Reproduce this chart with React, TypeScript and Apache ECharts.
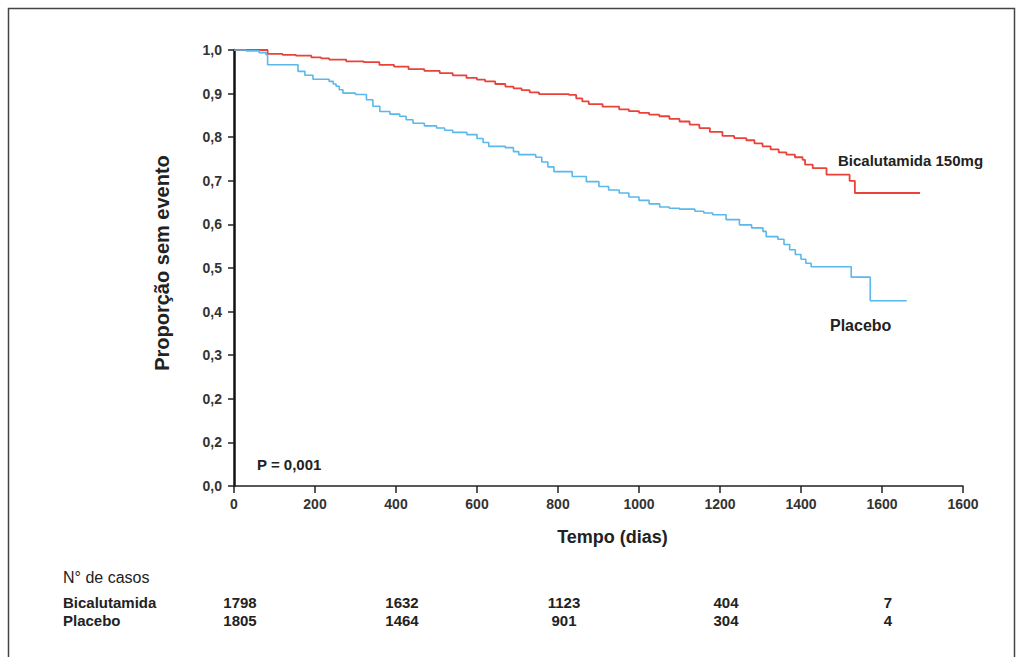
import React, { useEffect, useRef } from "react";
import * as echarts from "echarts";

// ---- Data ----
const xTickLabels = ["0", "200", "400", "600", "800", "1000", "1200", "1400", "1600", "1600"];
const yTickLabels = ["0,0", "0,2", "0,2", "0,3", "0,4", "0,5", "0,6", "0,7", "0,8", "0,9", "1,0"];

const bicalutamida: [number, number][] = [
  [0, 1.0], [83, 0.991], [120, 0.989], [153, 0.987], [191, 0.983], [215, 0.981], [235, 0.978],
  [277, 0.974], [320, 0.972], [359, 0.966], [395, 0.962], [431, 0.956], [470, 0.952], [508, 0.947],
  [540, 0.942], [574, 0.936], [600, 0.932], [620, 0.928], [645, 0.922], [670, 0.916], [690, 0.912],
  [710, 0.908], [730, 0.903], [753, 0.899], [827, 0.897], [845, 0.889], [860, 0.882], [876, 0.876],
  [910, 0.87], [951, 0.864], [975, 0.86], [1000, 0.856], [1025, 0.852], [1050, 0.848], [1075, 0.842],
  [1100, 0.836], [1125, 0.829], [1149, 0.821], [1175, 0.812], [1206, 0.803], [1235, 0.798],
  [1265, 0.793], [1285, 0.786], [1305, 0.779], [1325, 0.772], [1345, 0.765], [1364, 0.76],
  [1385, 0.754], [1404, 0.748], [1410, 0.737], [1429, 0.729], [1463, 0.714], [1520, 0.7],
  [1533, 0.672], [1694, 0.672],
];

const placebo: [number, number][] = [
  [0, 1.0], [30, 0.998], [62, 0.994], [79, 0.989], [83, 0.966], [158, 0.951], [175, 0.942],
  [195, 0.933], [235, 0.928], [245, 0.922], [252, 0.917], [260, 0.909], [269, 0.901], [300, 0.898],
  [327, 0.886], [343, 0.871], [360, 0.859], [385, 0.853], [409, 0.848], [425, 0.84], [442, 0.832],
  [470, 0.826], [500, 0.821], [520, 0.816], [540, 0.811], [575, 0.806], [600, 0.797], [615, 0.788],
  [629, 0.779], [670, 0.776], [690, 0.767], [703, 0.76], [745, 0.754], [760, 0.743], [775, 0.732],
  [790, 0.721], [835, 0.71], [870, 0.698], [901, 0.687], [925, 0.679], [951, 0.672], [975, 0.663],
  [1000, 0.655], [1025, 0.647], [1051, 0.64], [1075, 0.637], [1100, 0.635], [1138, 0.63],
  [1160, 0.626], [1182, 0.622], [1215, 0.611], [1248, 0.599], [1278, 0.592], [1306, 0.584],
  [1314, 0.572], [1343, 0.566], [1358, 0.554], [1372, 0.542], [1386, 0.531], [1400, 0.52],
  [1412, 0.511], [1425, 0.503], [1524, 0.479], [1571, 0.425], [1661, 0.425],
];

const tableDays = [0, 400, 800, 1200, 1600];
const casesBicalutamida = ["1798", "1632", "1123", "404", "7"];
const casesPlacebo = ["1805", "1464", "901", "304", "4"];

const FONT = "Liberation Sans, Arial, sans-serif";

export default function App() {
  const ref = useRef<HTMLDivElement>(null);
  useEffect(() => {
    if (!ref.current) return;
    const chart = echarts.init(ref.current, null, { renderer: "svg" });
    const labelStyle = { fontFamily: FONT, fontWeight: "bold" as const, fontSize: 14, color: "#333" };
    chart.setOption({
      animation: false,
      backgroundColor: "#fff",
      grid: { left: 234, right: 60, top: 50, bottom: 171 },
      xAxis: {
        type: "value", min: 0, max: 1800, interval: 200,
        axisLine: { lineStyle: { color: "#222", width: 1.5 } },
        axisTick: { length: 7, lineStyle: { color: "#222", width: 1.5 } },
        axisLabel: { ...labelStyle, margin: 11, formatter: (v: number) => xTickLabels[Math.round(v / 200)] },
        splitLine: { show: false },
        name: "Tempo (dias)", nameLocation: "middle", nameGap: 42,
        nameTextStyle: { fontFamily: FONT, fontWeight: "bold", fontSize: 18, color: "#222", padding: [0, 0, 0, 28] },
      },
      yAxis: {
        type: "value", min: 0, max: 1, interval: 0.1,
        axisLine: { show: true, lineStyle: { color: "#111", width: 2.5 } },
        axisTick: { show: true, length: 6, lineStyle: { color: "#222", width: 1.5 } },
        axisLabel: { ...labelStyle, margin: 12, formatter: (v: number) => yTickLabels[Math.round(v * 10)] },
        splitLine: { show: false },
        name: "Proporção sem evento", nameLocation: "middle", nameGap: 62,
        nameTextStyle: { fontFamily: FONT, fontWeight: "bold", fontSize: 20, color: "#222", padding: [0, 0, 0, 10] },
      },
      series: [
        {
          name: "Bicalutamida 150mg", type: "line", step: "end", data: bicalutamida,
          showSymbol: false, lineStyle: { color: "#e8423b", width: 1.8 }, itemStyle: { color: "#e8423b" },
        },
        {
          name: "Placebo", type: "line", step: "end", data: placebo,
          showSymbol: false, lineStyle: { color: "#5ab8ea", width: 1.6 }, itemStyle: { color: "#5ab8ea" },
        },
      ],
    });

    const textStyle = (text: string, extra: any = {}) => ({
      text, fontFamily: FONT, fontWeight: "bold", fontSize: 15, fill: "#222", ...extra,
    });
    const rowY1 = 602;
    const rowY2 = 620;
    const tableTexts: any[] = [];
    tableDays.forEach((d, i) => {
      const px = chart.convertToPixel({ xAxisIndex: 0 }, d) + 6;
      tableTexts.push({ type: "text", x: px, y: rowY1, style: textStyle(casesBicalutamida[i], { align: "center", verticalAlign: "middle" }) });
      tableTexts.push({ type: "text", x: px, y: rowY2, style: textStyle(casesPlacebo[i], { align: "center", verticalAlign: "middle" }) });
    });

    chart.setOption({
      graphic: [
        { type: "rect", shape: { x: 8.5, y: 8.5, width: 1006, height: 700 }, style: { fill: "none", stroke: "#444", lineWidth: 1.5 }, silent: true },
        { type: "text", x: 838, y: 160, style: textStyle("Bicalutamida 150mg", { fontSize: 15, verticalAlign: "middle" }) },
        { type: "text", x: 830, y: 325, style: textStyle("Placebo", { fontSize: 16, verticalAlign: "middle" }) },
        { type: "text", x: 257, y: 464, style: textStyle("P = 0,001", { fontSize: 15, verticalAlign: "middle" }) },
        { type: "text", x: 63, y: 577, style: textStyle("N° de casos", { fontWeight: "normal", fontSize: 16, verticalAlign: "middle" }) },
        { type: "text", x: 63, y: rowY1, style: textStyle("Bicalutamida", { verticalAlign: "middle" }) },
        { type: "text", x: 63, y: rowY2, style: textStyle("Placebo", { verticalAlign: "middle" }) },
        ...tableTexts,
      ],
    });
    return () => chart.dispose();
  }, []);
  return <div ref={ref} style={{ position: "absolute", left: 0, top: 0, width: 1023, height: 657 }} />;
}
